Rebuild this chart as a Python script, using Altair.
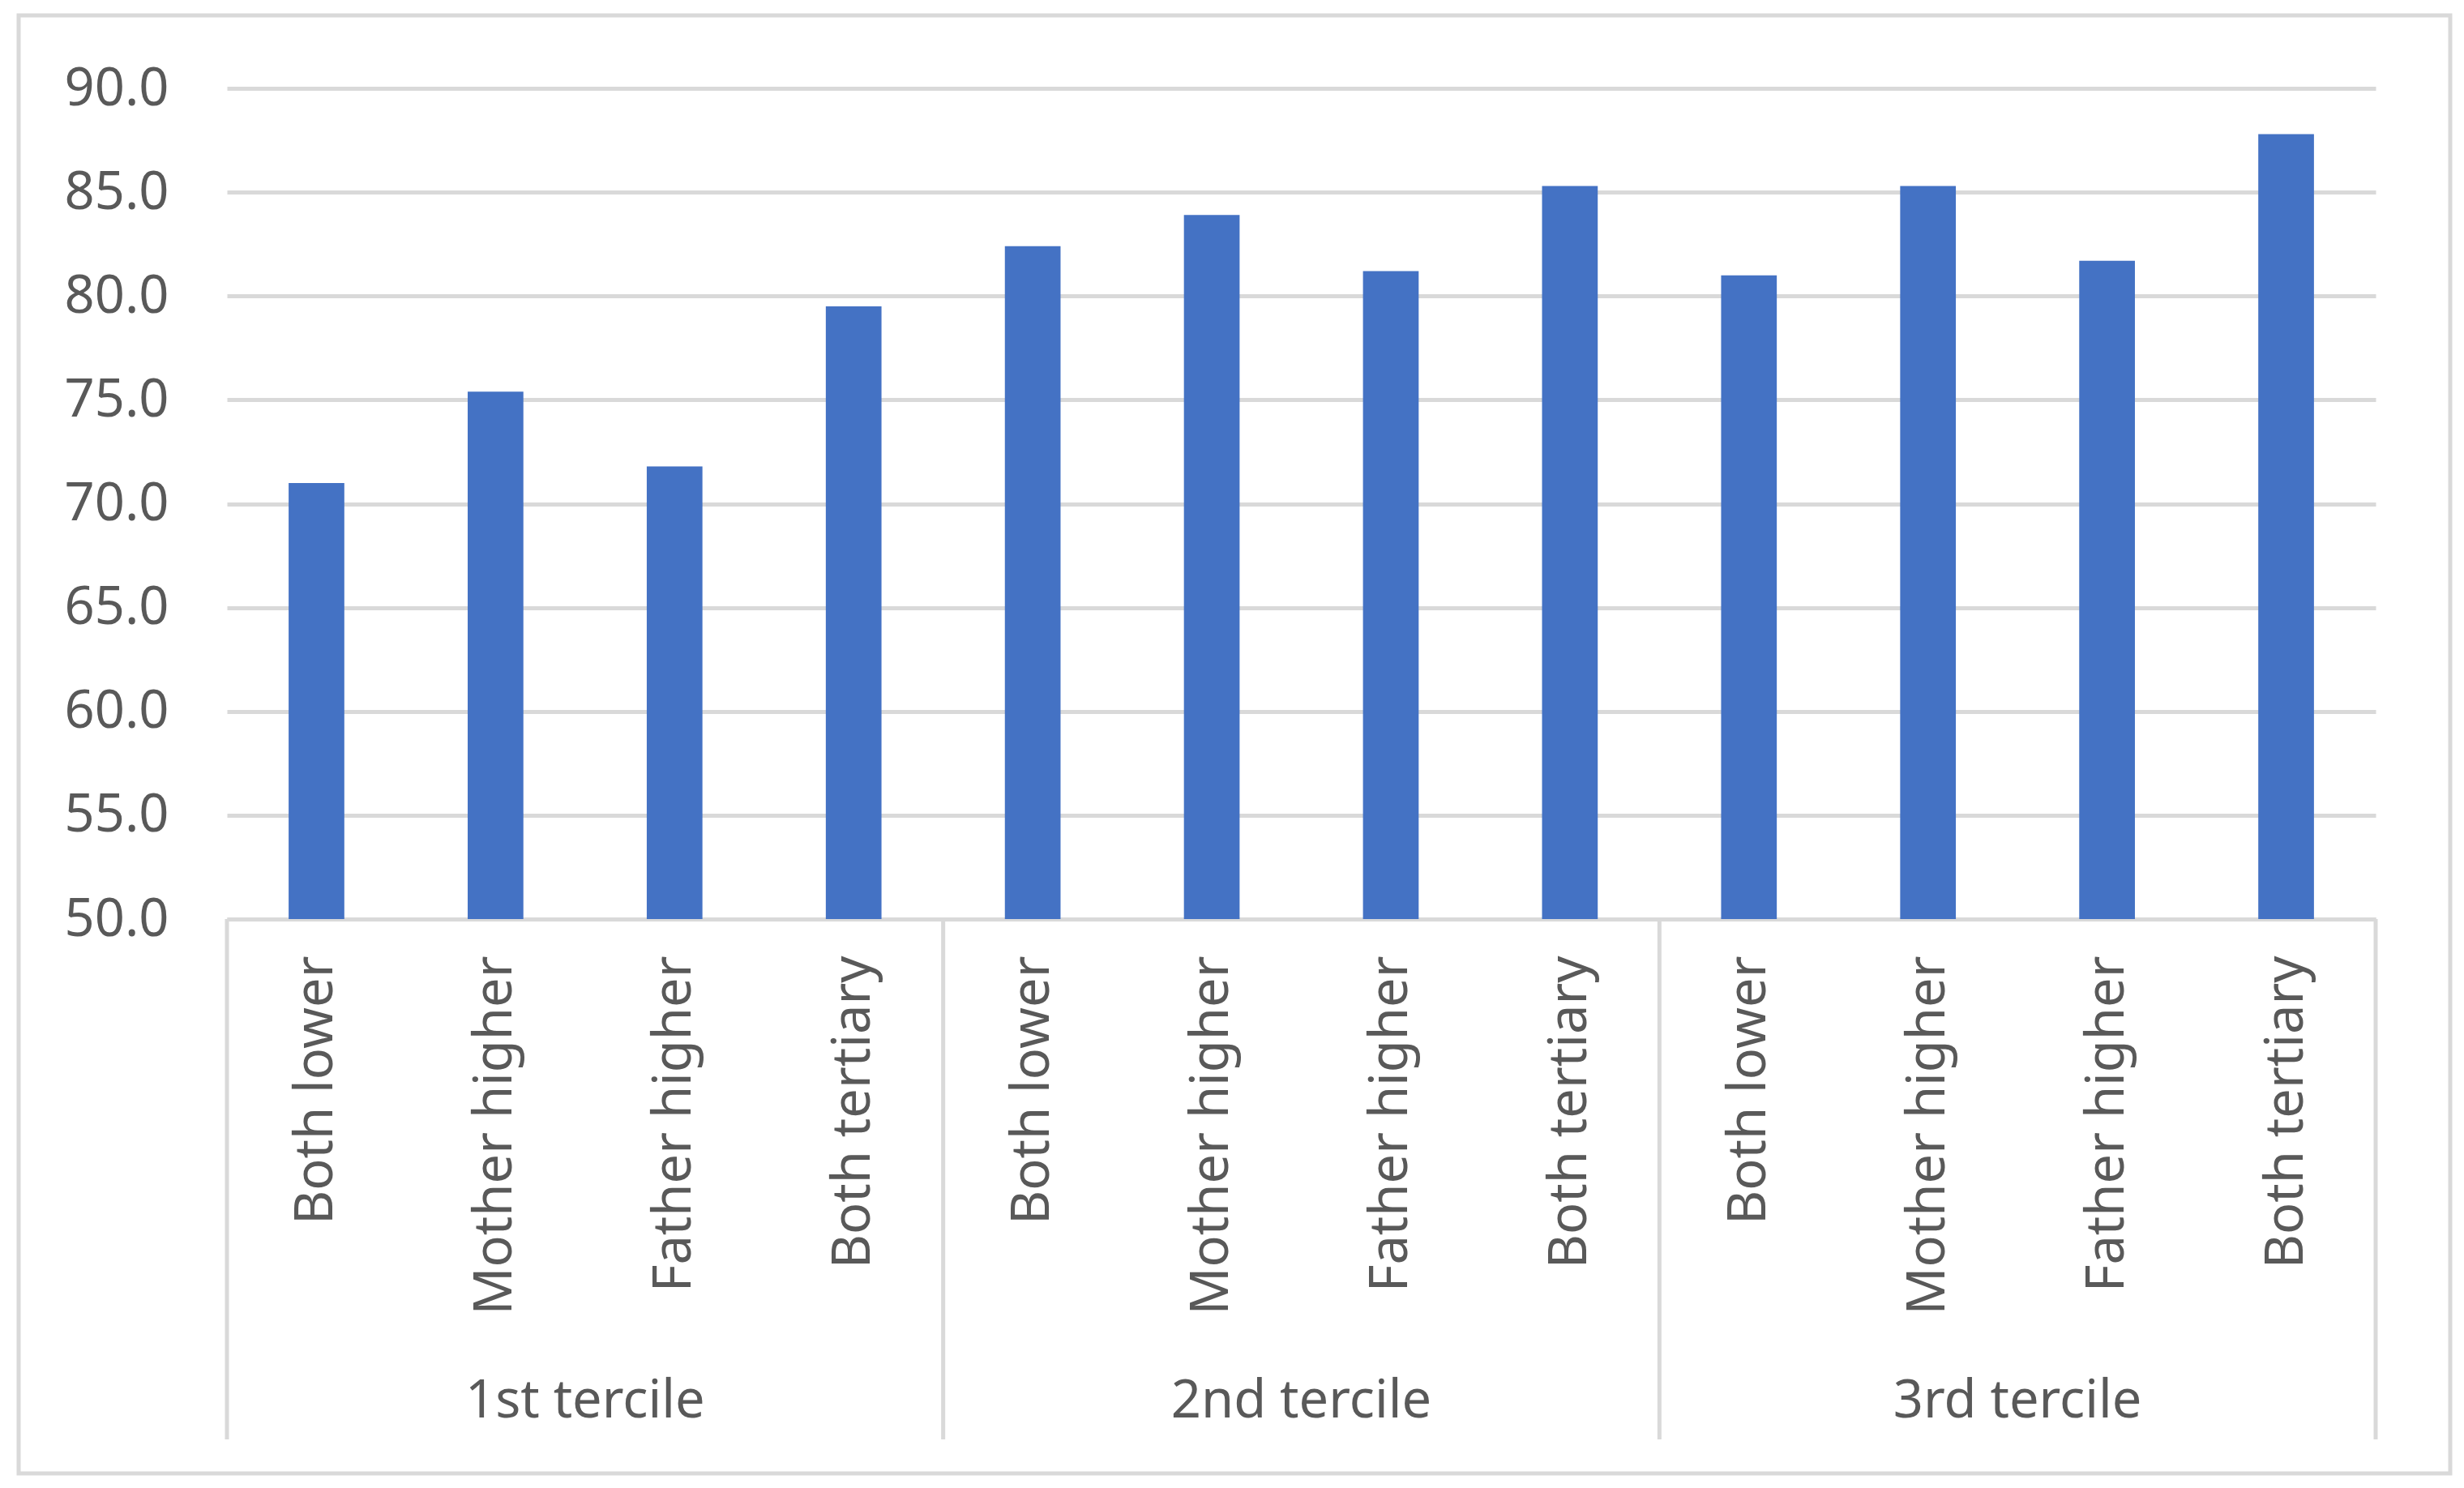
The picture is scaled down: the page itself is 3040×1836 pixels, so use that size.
import altair as alt
import pandas as pd

# ---- data ----
groups = ["1st tercile", "2nd tercile", "3rd tercile"]
categories = ["Both lower", "Mother higher", "Father higher", "Both tertiary"]
values = [71.0, 75.4, 71.8, 79.5,
          82.4, 83.9, 81.2, 85.3,
          81.0, 85.3, 81.7, 87.8]
y_ticks = [50, 55, 60, 65, 70, 75, 80, 85, 90]

keys = [f"{g}|{c}" for g in groups for c in categories]
df = pd.DataFrame({
    "key": keys,
    "group": [g for g in groups for c in categories],
    "category": [c for g in groups for c in categories],
    "value": values,
})

# ---- style ----
W, H = 2651, 1025
GRAY = "#d9d9d9"
TXT = "#595959"
FONT = "Noto Sans"
FS = 65

xscale = alt.Scale(domain=keys, paddingInner=0, paddingOuter=0)
xaxis = alt.Axis(
    labelExpr="split(datum.label, '|')[1]",
    labelAngle=270,
    labelPadding=45,
    labelFontSize=FS,
    labelFont=FONT,
    labelColor=TXT,
    labelLimit=2000,
    ticks=False,
    tickSize=0,
    domainColor=GRAY,
    domainWidth=5,
    grid=False,
)
yaxis = alt.Axis(
    values=y_ticks,
    format=".1f",
    labelFontSize=FS,
    labelFont=FONT,
    labelColor=TXT,
    labelPadding=72,
    ticks=False,
    tickSize=0,
    domain=False,
    grid=True,
    gridColor=GRAY,
    gridWidth=5,
)

border = alt.Chart(pd.DataFrame({"k": [0]})).mark_rect(
    filled=False, stroke=GRAY, strokeWidth=5
).encode(
    x=alt.value(-257), x2=alt.value(W + 92),
    y=alt.value(-90), y2=alt.value(H + 684),
)

bars = alt.Chart(df).mark_bar(
    color="#4472C4", width=alt.RelativeBandSize(0.311)
).encode(
    x=alt.X("key:N", scale=xscale, axis=xaxis, title=None),
    y=alt.Y("value:Q", scale=alt.Scale(domain=[50, 90], nice=False, zero=False, clamp=True),
            axis=yaxis, title=None),
)

sep_left = alt.Chart(df[df["category"] == categories[0]]).mark_rule(
    color=GRAY, strokeWidth=5
).encode(
    x=alt.X("key:N", scale=xscale, bandPosition=0, title=None),
    y=alt.value(H), y2=alt.value(H + 642),
)

sep_right = alt.Chart(df[df["key"] == keys[-1]]).mark_rule(
    color=GRAY, strokeWidth=5
).encode(
    x=alt.X("key:N", scale=xscale, bandPosition=1, title=None),
    y=alt.value(H), y2=alt.value(H + 642),
)

group_labels = alt.Chart(df[df["category"] == categories[1]]).mark_text(
    font=FONT, fontSize=FS, color=TXT, align="center", baseline="alphabetic"
).encode(
    x=alt.X("key:N", scale=xscale, bandPosition=1, title=None),
    y=alt.value(H + 615),
    text="group:N",
)

chart = alt.layer(border, bars, sep_left, sep_right, group_labels).properties(
    width=W, height=H,
    padding={"left": 12, "top": 8, "right": 5, "bottom": 5},
    background="white",
).configure_view(strokeWidth=0)

chart.save("out.html", embed_options={"renderer": "svg", "actions": False})
